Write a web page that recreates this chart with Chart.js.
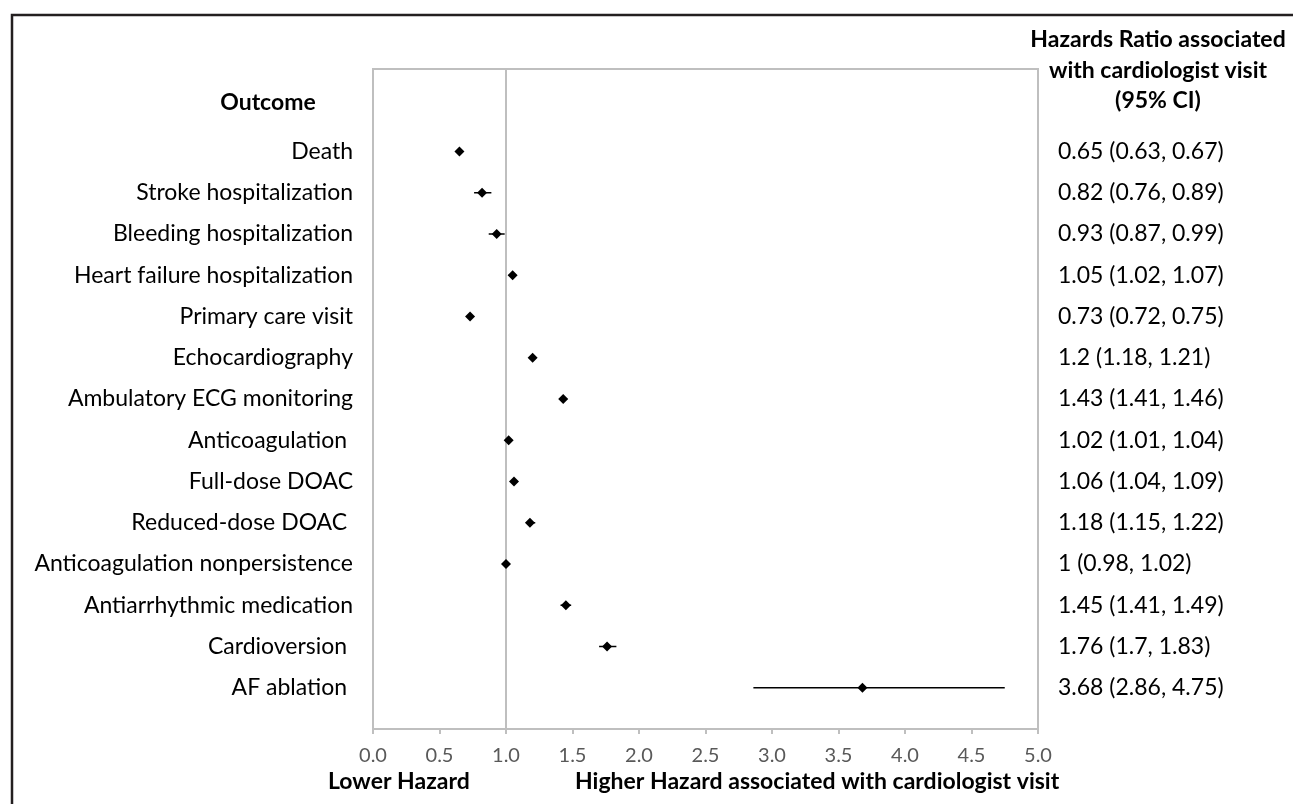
<!DOCTYPE html>
<html lang="en">
<head>
    <meta charset="UTF-8">
    <title>Hazards Ratio - cardiologist visit</title>
    <script src="https://cdn.jsdelivr.net/npm/chart.js"></script>
    <style>
        body {
            margin: 0;
            background: #fff;
        }
        .chart-box {
            position: relative;
            width: 1293px;
            height: 804px;
        }
    </style>
</head>
<body>
    <div class="chart-box">
        <canvas id="forestChart"></canvas>
    </div>

    <script>
        // Outcomes, top to bottom
        const outcomes = [
            "Death",
            "Stroke hospitalization",
            "Bleeding hospitalization",
            "Heart failure hospitalization",
            "Primary care visit",
            "Echocardiography",
            "Ambulatory ECG monitoring",
            "Anticoagulation ",
            "Full-dose DOAC",
            "Reduced-dose DOAC ",
            "Anticoagulation nonpersistence",
            "Antiarrhythmic medication",
            "Cardioversion ",
            "AF ablation "
        ];
        const hazardRatio = [0.65, 0.82, 0.93, 1.05, 0.73, 1.2, 1.43, 1.02, 1.06, 1.18, 1, 1.45, 1.76, 3.68];
        const ciLower = [0.63, 0.76, 0.87, 1.02, 0.72, 1.18, 1.41, 1.01, 1.04, 1.15, 0.98, 1.41, 1.7, 2.86];
        const ciUpper = [0.67, 0.89, 0.99, 1.07, 0.75, 1.21, 1.46, 1.04, 1.09, 1.22, 1.02, 1.49, 1.83, 4.75];
        const xTicks = [0, 0.5, 1, 1.5, 2, 2.5, 3, 3.5, 4, 4.5, 5];

        // first outcome sits two rows below the top of the plot
        const rowOffset = 2;
        const rowCount = 16;

        const ciText = hazardRatio.map((v, i) => `${v} (${ciLower[i]}, ${ciUpper[i]})`);
        const points = hazardRatio.map((v, i) => ({ x: v, y: i + rowOffset }));

        const FONT = "Lato, 'Open Sans', sans-serif";

        // error bars, box, outer frame and headings
        const forestPlugin = {
            id: 'forestExtras',
            beforeDatasetsDraw(chart) {
                const ctx = chart.ctx;
                const xs = chart.scales.x;
                const ys = chart.scales.y;
                ctx.save();
                ctx.strokeStyle = '#000';
                ctx.lineWidth = 1.5;
                ciLower.forEach((lo, i) => {
                    const y = ys.getPixelForValue(i + rowOffset);
                    ctx.beginPath();
                    ctx.moveTo(xs.getPixelForValue(lo), y);
                    ctx.lineTo(xs.getPixelForValue(ciUpper[i]), y);
                    ctx.stroke();
                });
                ctx.restore();
            },
            afterDraw(chart) {
                const ctx = chart.ctx;
                const a = chart.chartArea;
                ctx.save();

                // top edge of plot box
                ctx.strokeStyle = '#bfbfbf';
                ctx.lineWidth = 2;
                ctx.beginPath();
                ctx.moveTo(a.left - 1, a.top);
                ctx.lineTo(a.right + 1, a.top);
                ctx.stroke();

                // outer frame (cut off at right and bottom)
                ctx.strokeStyle = '#231f20';
                ctx.lineWidth = 2.5;
                ctx.beginPath();
                ctx.moveTo(12, chart.height);
                ctx.lineTo(12, 15);
                ctx.lineTo(chart.width, 15);
                ctx.stroke();

                ctx.fillStyle = '#000';
                ctx.font = `bold 23px ${FONT}`;
                ctx.textBaseline = 'middle';

                ctx.textAlign = 'center';
                ctx.fillText('Outcome', 268, 103);
                ctx.fillText('Hazards Ratio associated', 1158, 40);
                ctx.fillText('with cardiologist visit', 1158, 71);
                ctx.fillText('(95% CI)', 1158, 101);

                ctx.textAlign = 'left';
                ctx.fillText('Lower Hazard', 328, 782);
                ctx.fillText('Higher Hazard associated with cardiologist visit', 575, 782);
                ctx.restore();
            }
        };

        const ctx = document.getElementById('forestChart').getContext('2d');
        new Chart(ctx, {
            type: 'scatter',
            data: {
                datasets: [{
                    label: 'Hazards Ratio',
                    data: points,
                    pointStyle: 'rectRot',
                    pointRadius: 5,
                    pointHoverRadius: 5,
                    backgroundColor: '#000',
                    borderColor: '#000',
                    borderWidth: 0
                }, {
                    // right-hand column axis only
                    label: 'CI',
                    data: [],
                    yAxisID: 'yRight'
                }]
            },
            options: {
                responsive: true,
                maintainAspectRatio: false,
                animation: false,
                layout: { padding: { top: 69, left: 0, right: 0, bottom: 0 } },
                plugins: {
                    legend: { display: false },
                    tooltip: { enabled: false }
                },
                scales: {
                    x: {
                        type: 'linear',
                        min: 0,
                        max: 5,
                        afterBuildTicks: (scale) => {
                            scale.ticks = xTicks.map(v => ({ value: v }));
                        },
                        afterFit: (scale) => { scale.height = 75; },
                        ticks: {
                            color: '#595959',
                            font: { family: FONT, size: 20 },
                            padding: 10,
                            callback: (v) => Number(v).toFixed(1)
                        },
                        grid: {
                            color: (c) => (c.tick && c.tick.value === 1 ? '#bfbfbf' : 'rgba(0,0,0,0)'),
                            lineWidth: 2,
                            tickColor: '#bfbfbf',
                            tickLength: 5,
                            tickWidth: 2
                        },
                        border: { display: true, color: '#bfbfbf', width: 2 }
                    },
                    y: {
                        type: 'linear',
                        position: 'left',
                        min: 0,
                        max: rowCount,
                        reverse: true,
                        afterBuildTicks: (scale) => {
                            scale.ticks = outcomes.map((o, i) => ({ value: i + rowOffset }));
                        },
                        afterFit: (scale) => { scale.width = 373; },
                        ticks: {
                            autoSkip: false,
                            color: '#000',
                            font: { family: FONT, size: 23 },
                            padding: 20,
                            callback: (v) => outcomes[v - rowOffset]
                        },
                        grid: { display: false, drawTicks: false },
                        border: { display: true, color: '#bfbfbf', width: 2 }
                    },
                    yRight: {
                        type: 'linear',
                        position: 'right',
                        min: 0,
                        max: rowCount,
                        reverse: true,
                        afterBuildTicks: (scale) => {
                            scale.ticks = ciText.map((t, i) => ({ value: i + rowOffset }));
                        },
                        afterFit: (scale) => { scale.width = 255; },
                        ticks: {
                            autoSkip: false,
                            color: '#000',
                            font: { family: FONT, size: 23 },
                            padding: 20,
                            callback: (v) => ciText[v - rowOffset]
                        },
                        grid: { display: false, drawTicks: false },
                        border: { display: true, color: '#bfbfbf', width: 2 }
                    }
                }
            },
            plugins: [forestPlugin]
        });
    </script>
</body>
</html>
